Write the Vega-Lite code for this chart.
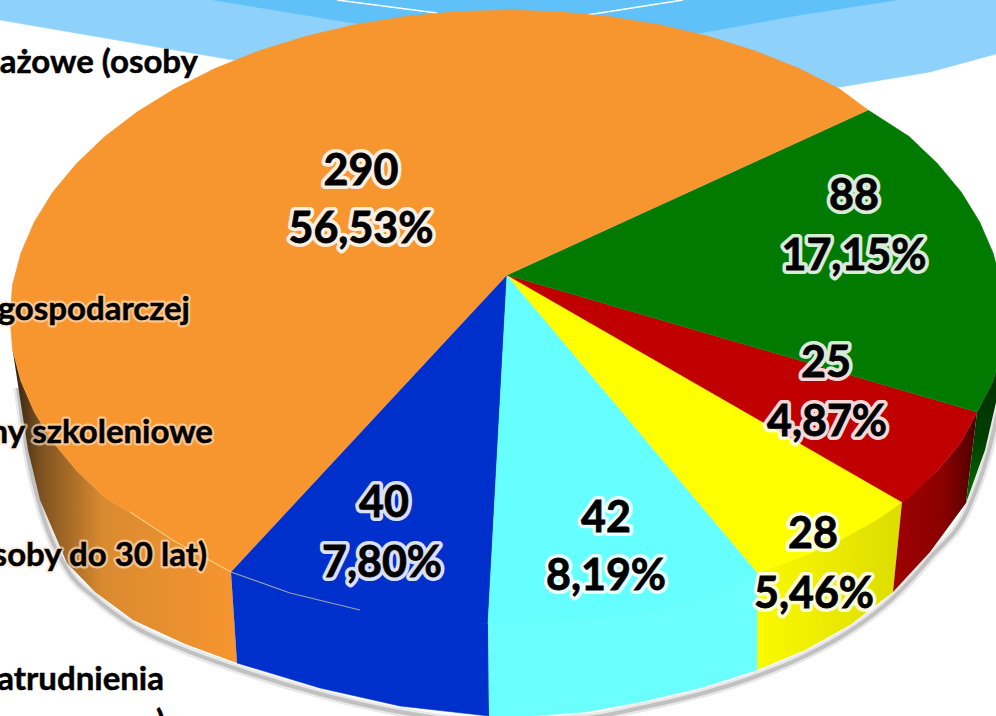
{
"$schema":"https://vega.github.io/schema/vega-lite/v6.json",
"width":996,"height":716,"padding":0,"autosize":{"type":"none"},"background":"white",
"view":{"stroke":null},
"datasets":{
"shapes":[
{"p":"wave light","i":0,"x":0,"y":0},{"p":"wave light","i":1,"x":996,"y":0},{"p":"wave light","i":2,"x":996,"y":54},{"p":"wave light","i":3,"x":930,"y":72},{"p":"wave light","i":4,"x":840,"y":87},{"p":"wave light","i":5,"x":500,"y":110},{"p":"wave light","i":6,"x":233,"y":60},{"p":"wave light","i":7,"x":0,"y":20},
{"p":"wave dark","i":0,"x":213,"y":0},{"p":"wave dark","i":1,"x":353,"y":23},{"p":"wave dark","i":2,"x":507,"y":45},{"p":"wave dark","i":3,"x":700,"y":33},{"p":"wave dark","i":4,"x":800,"y":15},{"p":"wave dark","i":5,"x":897,"y":0},

{"p":"side blue","i":0,"x":231,"y":572},{"p":"side blue","i":1,"x":353,"y":609},{"p":"side blue","i":2,"x":488,"y":624},{"p":"side blue","i":3,"x":489,"y":716},{"p":"side blue","i":4,"x":400,"y":706},{"p":"side blue","i":5,"x":320,"y":688},{"p":"side blue","i":6,"x":237,"y":663},
{"p":"side cyan","i":0,"x":488,"y":624},{"p":"side cyan","i":1,"x":660,"y":600},{"p":"side cyan","i":2,"x":757,"y":572},{"p":"side cyan","i":3,"x":757,"y":670},{"p":"side cyan","i":4,"x":700,"y":688},{"p":"side cyan","i":5,"x":640,"y":702},{"p":"side cyan","i":6,"x":585,"y":712},{"p":"side cyan","i":7,"x":530,"y":716},{"p":"side cyan","i":8,"x":489,"y":716},

{"p":"blue","i":0,"x":507,"y":275},{"p":"blue","i":1,"x":231,"y":572},{"p":"blue","i":2,"x":258.5,"y":582.9},{"p":"blue","i":3,"x":304.9,"y":597.5},{"p":"blue","i":4,"x":353.4,"y":609},{"p":"blue","i":5,"x":403.7,"y":617.3},{"p":"blue","i":6,"x":455,"y":622.3},{"p":"blue","i":7,"x":488,"y":624},
{"p":"cyan","i":0,"x":507,"y":275},{"p":"cyan","i":1,"x":488,"y":624},{"p":"cyan","i":2,"x":559,"y":622.3},{"p":"cyan","i":3,"x":610.3,"y":617.3},{"p":"cyan","i":4,"x":660.6,"y":609},{"p":"cyan","i":5,"x":709.1,"y":597.5},{"p":"cyan","i":6,"x":757,"y":572},
{"p":"yellow","i":0,"x":507,"y":275},{"p":"yellow","i":1,"x":757,"y":572},{"p":"yellow","i":2,"x":799.2,"y":558},{"p":"yellow","i":3,"x":839.6,"y":540},{"p":"yellow","i":4,"x":876.3,"y":520},{"p":"yellow","i":5,"x":902,"y":502},
{"p":"red","i":0,"x":507,"y":275},{"p":"red","i":1,"x":902,"y":502},{"p":"red","i":2,"x":909,"y":497.5},{"p":"red","i":3,"x":937.4,"y":470.5},{"p":"red","i":4,"x":961.2,"y":441.9},{"p":"red","i":5,"x":977,"y":412},
{"p":"green","i":0,"x":507,"y":275},{"p":"green","i":1,"x":977,"y":412},{"p":"green","i":2,"x":993.1,"y":380.9},{"p":"green","i":3,"x":1001.5,"y":349.2},{"p":"green","i":4,"x":1004,"y":317},{"p":"green","i":5,"x":1001.5,"y":284.8},{"p":"green","i":6,"x":993.1,"y":253.1},{"p":"green","i":7,"x":979.7,"y":222.1},{"p":"green","i":8,"x":961.2,"y":192.1},{"p":"green","i":9,"x":937.4,"y":163.5},{"p":"green","i":10,"x":909.1,"y":136.5},{"p":"green","i":11,"x":868,"y":110},
{"p":"orange","i":0,"x":507,"y":275},{"p":"orange","i":1,"x":868,"y":110},{"p":"orange","i":2,"x":839.6,"y":88.9},{"p":"orange","i":3,"x":799.2,"y":68.6},{"p":"orange","i":4,"x":755.5,"y":51.1},{"p":"orange","i":5,"x":709.1,"y":36.5},{"p":"orange","i":6,"x":660.6,"y":25},{"p":"orange","i":7,"x":610.3,"y":16.7},{"p":"orange","i":8,"x":559,"y":11.7},{"p":"orange","i":9,"x":507,"y":10},{"p":"orange","i":10,"x":455,"y":11.7},{"p":"orange","i":11,"x":403.7,"y":16.7},{"p":"orange","i":12,"x":353.4,"y":25},{"p":"orange","i":13,"x":304.9,"y":36.5},{"p":"orange","i":14,"x":258.5,"y":51.1},{"p":"orange","i":15,"x":214.8,"y":68.6},{"p":"orange","i":16,"x":174.4,"y":88.9},{"p":"orange","i":17,"x":137.7,"y":111.6},{"p":"orange","i":18,"x":104.9,"y":136.5},{"p":"orange","i":19,"x":76.6,"y":163.5},{"p":"orange","i":20,"x":52.8,"y":192.1},{"p":"orange","i":21,"x":34.3,"y":222.1},{"p":"orange","i":22,"x":20.9,"y":253.1},{"p":"orange","i":23,"x":12.5,"y":284.8},{"p":"orange","i":24,"x":10,"y":317},{"p":"orange","i":25,"x":12.5,"y":349.2},{"p":"orange","i":26,"x":20.9,"y":380.9},{"p":"orange","i":27,"x":34.3,"y":411.9},{"p":"orange","i":28,"x":52.8,"y":441.9},{"p":"orange","i":29,"x":76.6,"y":470.5},{"p":"orange","i":30,"x":104.9,"y":497.5},{"p":"orange","i":31,"x":137.7,"y":517},{"p":"orange","i":32,"x":174.4,"y":541},{"p":"orange","i":33,"x":214.8,"y":563},{"p":"orange","i":34,"x":231,"y":572}
],
"sideOrange":[
{"i":0,"x":12.5,"y":349},{"i":1,"x":20.9,"y":380.9},{"i":2,"x":34.3,"y":411.9},{"i":3,"x":52.8,"y":441.9},{"i":4,"x":76.6,"y":470.5},{"i":5,"x":104.9,"y":497.5},{"i":6,"x":137.7,"y":517},{"i":7,"x":174.4,"y":541},{"i":8,"x":231,"y":572},{"i":9,"x":237,"y":663},{"i":10,"x":185,"y":644},{"i":11,"x":133,"y":620},{"i":12,"x":95,"y":592},{"i":13,"x":67,"y":563},{"i":14,"x":40,"y":500},{"i":15,"x":28,"y":450},{"i":16,"x":18,"y":385}
],
"sideYellow":[
{"i":0,"x":757,"y":572},{"i":1,"x":799,"y":558},{"i":2,"x":840,"y":540},{"i":3,"x":876,"y":520},{"i":4,"x":902,"y":502},{"i":5,"x":893,"y":592},{"i":6,"x":850,"y":625},{"i":7,"x":805,"y":650},{"i":8,"x":757,"y":670}
],
"sideRed":[
{"i":0,"x":902,"y":502},{"i":1,"x":937.4,"y":470.5},{"i":2,"x":961.2,"y":441.9},{"i":3,"x":977,"y":412},{"i":4,"x":966,"y":503},{"i":5,"x":930,"y":552},{"i":6,"x":893,"y":592}
],
"sideGreen":[
{"i":0,"x":977,"y":412},{"i":1,"x":993,"y":381},{"i":2,"x":1002,"y":349},{"i":3,"x":1000,"y":385},{"i":4,"x":985,"y":450},{"i":5,"x":966,"y":503}
],
"shadow":[
{"i":0,"x":18,"y":388},{"i":1,"x":28,"y":456},{"i":2,"x":40,"y":506},{"i":3,"x":67,"y":569},{"i":4,"x":95,"y":598},{"i":5,"x":133,"y":626},{"i":6,"x":185,"y":650},{"i":7,"x":237,"y":669},{"i":8,"x":320,"y":694},{"i":9,"x":400,"y":712},{"i":10,"x":489,"y":722},{"i":11,"x":585,"y":718},{"i":12,"x":640,"y":708},{"i":13,"x":700,"y":694},{"i":14,"x":757,"y":676},{"i":15,"x":805,"y":656},{"i":16,"x":850,"y":631},{"i":17,"x":893,"y":598},{"i":18,"x":930,"y":558},{"i":19,"x":969,"y":507},{"i":20,"x":988,"y":454},{"i":21,"x":1003,"y":388}
],
"whiteLines":[
{"s":"a","i":0,"x":337,"y":0},{"s":"a","i":1,"x":437,"y":13},
{"s":"b","i":0,"x":587,"y":15},{"s":"b","i":1,"x":683,"y":0}
],
"highlight":[
{"s":"o","i":0,"x":130,"y":512},{"s":"o","i":1,"x":174,"y":541},{"s":"o","i":2,"x":231,"y":572},{"s":"o","i":3,"x":290,"y":593},{"s":"o","i":4,"x":360,"y":610}
],
"labels":[
{"slice":"orange","text":"290","x":361,"y":172},{"slice":"orange","text":"56,53%","x":361,"y":230},
{"slice":"green","text":"88","x":854,"y":197},{"slice":"green","text":"17,15%","x":854,"y":257},
{"slice":"red","text":"25","x":826,"y":364},{"slice":"red","text":"4,87%","x":827,"y":423},
{"slice":"yellow","text":"28","x":813,"y":535},{"slice":"yellow","text":"5,46%","x":814,"y":595},
{"slice":"cyan","text":"42","x":606,"y":519},{"slice":"cyan","text":"8,19%","x":606,"y":577},
{"slice":"blue","text":"40","x":384,"y":504},{"slice":"blue","text":"7,80%","x":382,"y":564}
],
"legend":[
{"text":"stażowe (osoby","x":198,"y":73},
{"text":"gospodarczej","x":190,"y":320},
{"text":"Bony szkoleniowe","x":213,"y":443},
{"text":"(osoby do 30 lat)","x":207,"y":566},
{"text":"zatrudnienia","x":164,"y":690},
{"text":")","x":165,"y":733}
]
},
"encoding":{
"x":{"field":"x","type":"quantitative","scale":{"domain":[0,996],"nice":false,"zero":false},"axis":null},
"y":{"field":"y","type":"quantitative","scale":{"domain":[0,716],"reverse":true,"nice":false,"zero":false},"axis":null},
"order":{"field":"i"}
},
"layer":[
{"data":{"name":"shapes"},"transform":[{"filter":"indexof(datum.p,'wave')==0"}],"mark":{"type":"line","strokeWidth":0.5,"clip":true},
 "encoding":{"fill":{"field":"p","scale":{"domain":["wave light","wave dark","side blue","side cyan","blue","cyan","yellow","red","green","orange"],"range":["#8ED2FB","#60C0F8","#0030CC","#6AFFFC","#0030CC","#66FFFF","#FFFF00","#C00000","#007A00","#F7952F"]},"legend":null},"stroke":{"field":"p","scale":{"domain":["wave light","wave dark","side blue","side cyan","blue","cyan","yellow","red","green","orange"],"range":["#8ED2FB","#60C0F8","#0030CC","#6AFFFC","#0030CC","#66FFFF","#FFFF00","#C00000","#007A00","#F7952F"]},"legend":null}}},
{"data":{"name":"whiteLines"},"mark":{"type":"line","stroke":"white","strokeWidth":1.5,"clip":true},"encoding":{"detail":{"field":"s"}}},
{"data":{"name":"legend"},"mark":{"type":"text","align":"right","baseline":"alphabetic","font":"Lato","fontWeight":"bold","fontSize":33,"color":"black","stroke":"black","strokeWidth":0.5},"transform":[{"filter":"datum.y<100 || datum.y>600"}],"encoding":{"text":{"field":"text"},"order":{"value":null}}},
{"data":{"name":"shadow"},"mark":{"type":"line","stroke":"#cccccc","strokeWidth":9,"opacity":0.45,"clip":true,"interpolate":"monotone"}},
{"data":{"name":"shadow"},"mark":{"type":"line","stroke":"#999999","strokeWidth":4,"opacity":0.5,"clip":true,"interpolate":"monotone"}},
{"data":{"name":"sideOrange"},"mark":{"type":"line","stroke":null,"clip":true,"fill":{"gradient":"linear","x1":0,"x2":1,"y1":0,"y2":0,"stops":[{"offset":0,"color":"#2e2010"},{"offset":0.12,"color":"#7a5020"},{"offset":0.4,"color":"#d98a30"},{"offset":1,"color":"#F7952F"}]}}},
{"data":{"name":"sideYellow"},"mark":{"type":"line","stroke":null,"clip":true,"fill":{"gradient":"linear","x1":0,"x2":1,"y1":0,"y2":0,"stops":[{"offset":0,"color":"#FAFA00"},{"offset":1,"color":"#DCDC00"}]}}},
{"data":{"name":"sideRed"},"mark":{"type":"line","stroke":null,"clip":true,"fill":{"gradient":"linear","x1":0,"x2":1,"y1":0,"y2":0,"stops":[{"offset":0,"color":"#A00000"},{"offset":0.6,"color":"#8A0000"},{"offset":1,"color":"#4A0000"}]}}},
{"data":{"name":"sideGreen"},"mark":{"type":"line","stroke":null,"clip":true,"fill":{"gradient":"linear","x1":0,"x2":0,"y1":0,"y2":1,"stops":[{"offset":0,"color":"#002a00"},{"offset":0.6,"color":"#004000"},{"offset":1,"color":"#007000"}]}}},
{"data":{"name":"shapes"},"transform":[{"filter":"indexof(datum.p,'wave')!=0"}],"mark":{"type":"line","strokeWidth":0.6,"clip":true},
 "encoding":{"fill":{"field":"p","scale":{"domain":["wave light","wave dark","side blue","side cyan","blue","cyan","yellow","red","green","orange"],"range":["#8ED2FB","#60C0F8","#0030CC","#6AFFFC","#0030CC","#66FFFF","#FFFF00","#C00000","#007A00","#F7952F"]},"legend":null},"stroke":{"field":"p","scale":{"domain":["wave light","wave dark","side blue","side cyan","blue","cyan","yellow","red","green","orange"],"range":["#8ED2FB","#60C0F8","#0030CC","#6AFFFC","#0030CC","#66FFFF","#FFFF00","#C00000","#007A00","#F7952F"]},"legend":null}}},
{"data":{"name":"highlight"},"mark":{"type":"line","stroke":"#FFF0A0","strokeWidth":1.2,"opacity":0.6,"clip":true}},
{"data":{"name":"legend"},"mark":{"type":"text","align":"right","baseline":"alphabetic","font":"Lato","fontWeight":"bold","fontSize":33,"stroke":"#FFE8D0","strokeWidth":5,"strokeJoin":"round","opacity":0.6},"transform":[{"filter":"datum.y>100 && datum.y<600"}],"encoding":{"text":{"field":"text"},"order":{"value":null}}},
{"data":{"name":"legend"},"mark":{"type":"text","align":"right","baseline":"alphabetic","font":"Lato","fontWeight":"bold","fontSize":33,"color":"black","stroke":"black","strokeWidth":0.5},"transform":[{"filter":"datum.y>100 && datum.y<600"}],"encoding":{"text":{"field":"text"},"order":{"value":null}}},
{"data":{"name":"labels"},"mark":{"type":"text","align":"center","baseline":"middle","font":"Lato","fontWeight":"bold","fontSize":43,"stroke":"white","strokeWidth":8,"strokeJoin":"round","opacity":0.85},"encoding":{"text":{"field":"text"},"order":{"value":null}}},
{"data":{"name":"labels"},"mark":{"type":"text","align":"center","baseline":"middle","font":"Lato","fontWeight":"bold","fontSize":43,"color":"black","stroke":"black","strokeWidth":0.8},"encoding":{"text":{"field":"text"},"order":{"value":null}}}
]
}
